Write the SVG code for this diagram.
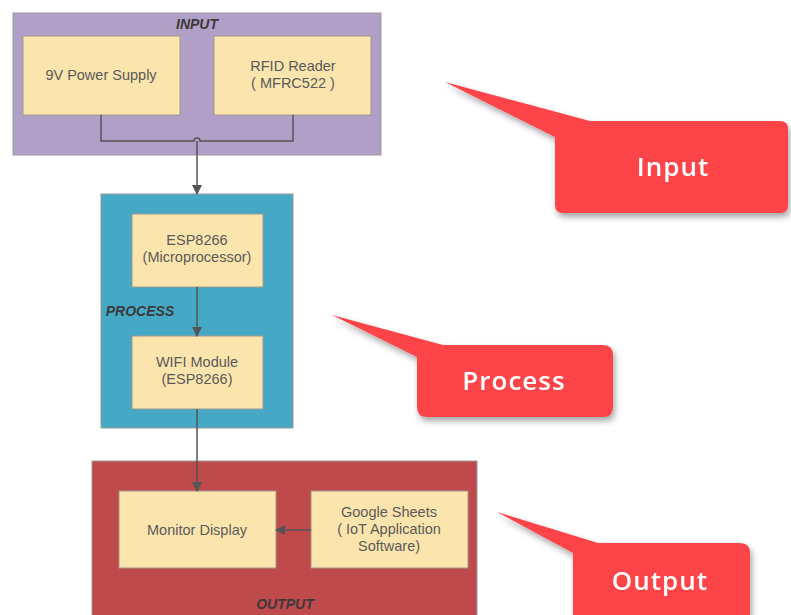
<svg xmlns="http://www.w3.org/2000/svg" width="791" height="615" viewBox="0 0 791 615">
<defs>
<style>
.cont{stroke:#9a9a9a;stroke-width:1}
.box{fill:#fbe5ad;stroke:#a09a90;stroke-width:1}
.t{font-family:"Liberation Sans",Arial,sans-serif;font-size:14.5px;fill:#5a5a5a;text-anchor:middle}
.lbl{font-family:"Liberation Sans",Arial,sans-serif;font-size:14px;font-style:italic;font-weight:bold;fill:#3a3a3a;text-anchor:middle}
.conn{fill:none;stroke:#555;stroke-width:1.5}
.call{fill:#fd4449}
.ct{font-family:"Open Sans",sans-serif;font-size:26px;font-weight:600;fill:#fff;text-anchor:middle;letter-spacing:1px}
</style>
<marker id="ah" markerWidth="10" markerHeight="10" refX="9" refY="5" orient="auto" markerUnits="userSpaceOnUse">
<path d="M0,0 L10,5 L0,10 z" fill="#555"/>
</marker>
<filter id="sh" x="-20%" y="-20%" width="150%" height="160%">
<feDropShadow dx="2" dy="4" stdDeviation="3" flood-color="#000" flood-opacity="0.35"/>
</filter>
</defs>
<rect width="791" height="615" fill="#fff"/>

<g id="input-group">
<rect class="cont" x="13" y="13" width="368" height="142" fill="#b09fc7"/>
<text class="lbl" x="197" y="29">INPUT</text>
</g>
<g id="process-group">
<rect class="cont" x="101" y="194" width="192" height="234" fill="#45a9c5"/>
<text class="lbl" x="140" y="316">PROCESS</text>
</g>
<g id="output-group">
<rect class="cont" x="92" y="461" width="385" height="160" fill="#bf4a4b"/>
<text class="lbl" x="285" y="609">OUTPUT</text>
</g>

<g id="power">
<rect class="box" x="23" y="36" width="157" height="79"/>
<text class="t" x="101" y="80">9V Power Supply</text>
</g>
<g id="rfid">
<rect class="box" x="214" y="36" width="157" height="79"/>
<text class="t" x="293" y="71">RFID Reader</text>
<text class="t" x="293" y="88">( MFRC522 )</text>
</g>
<g id="esp">
<rect class="box" x="132" y="214" width="131" height="73"/>
<text class="t" x="197" y="245">ESP8266</text>
<text class="t" x="197" y="262">(Microprocessor)</text>
</g>
<g id="wifi">
<rect class="box" x="132" y="336" width="131" height="73"/>
<text class="t" x="197" y="367">WIFI Module</text>
<text class="t" x="197" y="384">(ESP8266)</text>
</g>
<g id="monitor">
<rect class="box" x="119" y="491" width="157" height="77"/>
<text class="t" x="197" y="535">Monitor Display</text>
</g>
<g id="sheets">
<rect class="box" x="311" y="491" width="157" height="77"/>
<text class="t" x="389" y="517">Google Sheets</text>
<text class="t" x="389" y="534">( IoT Application</text>
<text class="t" x="389" y="551">Software)</text>
</g>

<g id="connectors">
<path class="conn" d="M101,115 V141 H194 A3,3 0 0 1 200,141 H293 V115"/>
<path class="conn" d="M197,141 V194" marker-end="url(#ah)"/>
<path class="conn" d="M197,287 V336" marker-end="url(#ah)"/>
<path class="conn" d="M197,409 V491" marker-end="url(#ah)"/>
<path class="conn" d="M311,530 H276" marker-end="url(#ah)"/>
</g>

<g id="callout-input" filter="url(#sh)">
<path class="call" d="M445,82 L590,121 H780 Q788,121 788,129 V205 Q788,213 780,213 H563 Q555,213 555,205 V137 Z"/>
<text class="ct" x="673" y="176">Input</text>
</g>
<g id="callout-process" filter="url(#sh)">
<path class="call" d="M332,315 L443,345 H603 Q613,345 613,355 V407 Q613,417 603,417 H427 Q417,417 417,407 V357 Z"/>
<text class="ct" x="514" y="390">Process</text>
</g>
<g id="callout-output" filter="url(#sh)">
<path class="call" d="M497,512 L598,543 H740 Q750,543 750,553 V625 H573 V553 Z"/>
<text class="ct" x="660" y="590">Output</text>
</g>
</svg>
